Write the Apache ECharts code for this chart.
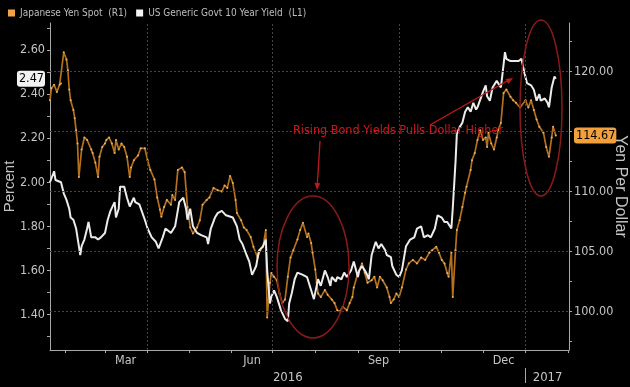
<!DOCTYPE html>
<html>
<head>
<meta charset="utf-8">
<script src="https://cdn.jsdelivr.net/npm/echarts@6/dist/echarts.min.js"></script>
<style>html,body{margin:0;padding:0;background:#000;}#c{width:630px;height:387px;}</style>
</head>
<body>
<div id="c"></div>
<script>
// ---------- DATA ----------
const seriesNames = ['Japanese Yen Spot  (R1)', 'US Generic Govt 10 Year Yield  (L1)'];

const yieldDates = ['2016-01-21','2016-01-24','2016-01-25','2016-01-29','2016-01-31','2016-02-02','2016-02-04','2016-02-05','2016-02-07','2016-02-09',
'2016-02-11','2016-02-12','2016-02-13','2016-02-15','2016-02-17','2016-02-18','2016-02-20','2016-02-23','2016-02-25','2016-02-27',
'2016-03-01','2016-03-03','2016-03-05','2016-03-08','2016-03-09','2016-03-11','2016-03-12','2016-03-15','2016-03-17','2016-03-19',
'2016-03-22','2016-03-23','2016-03-26','2016-03-30','2016-04-01','2016-04-04','2016-04-07','2016-04-09','2016-04-12','2016-04-14',
'2016-04-18','2016-04-21','2016-04-24','2016-04-27','2016-04-29','2016-04-30','2016-05-02','2016-05-04','2016-05-07','2016-05-10',
'2016-05-14','2016-05-15','2016-05-17','2016-05-20','2016-05-22','2016-05-25','2016-05-28','2016-06-02','2016-06-05','2016-06-07',
'2016-06-09','2016-06-12','2016-06-14','2016-06-16','2016-06-19','2016-06-21','2016-06-24','2016-06-26','2016-06-27','2016-06-29',
'2016-06-30','2016-07-02','2016-07-04','2016-07-07','2016-07-10','2016-07-12','2016-07-13','2016-07-15','2016-07-17','2016-07-19',
'2016-07-23','2016-07-26','2016-07-29','2016-07-31','2016-08-02','2016-08-03','2016-08-05','2016-08-08','2016-08-10','2016-08-12',
'2016-08-13','2016-08-16','2016-08-17','2016-08-20','2016-08-22','2016-08-24','2016-08-27','2016-08-29','2016-09-01','2016-09-02',
'2016-09-04','2016-09-07','2016-09-09','2016-09-11','2016-09-14','2016-09-16','2016-09-18','2016-09-21','2016-09-22','2016-09-25',
'2016-09-26','2016-09-29','2016-10-01','2016-10-03','2016-10-06','2016-10-09','2016-10-12','2016-10-14','2016-10-17','2016-10-19',
'2016-10-22','2016-10-24','2016-10-27','2016-10-29','2016-11-01','2016-11-03','2016-11-05','2016-11-08','2016-11-09','2016-11-11',
'2016-11-12','2016-11-14','2016-11-16','2016-11-18','2016-11-20','2016-11-22','2016-11-24','2016-11-26','2016-11-27','2016-12-01',
'2016-12-03','2016-12-04','2016-12-06','2016-12-08','2016-12-11','2016-12-14','2016-12-15','2016-12-17','2016-12-18','2016-12-21',
'2016-12-24','2016-12-27','2016-12-29','2016-12-31','2017-01-02','2017-01-05','2017-01-07','2017-01-09','2017-01-11','2017-01-12',
'2017-01-15','2017-01-17','2017-01-18','2017-01-20','2017-01-22','2017-01-23'];
const yieldValues = [2.00,2.05,2.01,2.00,1.95,1.92,1.88,1.84,1.83,1.79,
1.71,1.67,1.71,1.74,1.79,1.82,1.75,1.75,1.74,1.75,
1.77,1.83,1.87,1.91,1.84,1.88,1.98,1.98,1.93,1.89,
1.93,1.91,1.90,1.83,1.79,1.75,1.73,1.70,1.75,1.79,
1.77,1.80,1.91,1.93,1.88,1.83,1.88,1.80,1.77,1.76,
1.75,1.72,1.79,1.84,1.86,1.87,1.85,1.84,1.80,1.74,
1.72,1.67,1.64,1.58,1.62,1.69,1.71,1.74,1.60,1.45,
1.48,1.51,1.48,1.42,1.38,1.37,1.45,1.50,1.56,1.59,
1.58,1.57,1.51,1.47,1.53,1.56,1.53,1.60,1.57,1.53,
1.57,1.55,1.57,1.56,1.59,1.57,1.60,1.64,1.57,1.60,
1.62,1.59,1.56,1.67,1.73,1.70,1.72,1.69,1.67,1.66,
1.62,1.58,1.57,1.60,1.71,1.74,1.75,1.79,1.80,1.75,
1.76,1.75,1.79,1.85,1.84,1.82,1.82,1.79,1.88,2.09,
2.22,2.25,2.27,2.32,2.34,2.32,2.36,2.33,2.34,2.41,
2.44,2.39,2.37,2.43,2.46,2.43,2.48,2.59,2.56,2.55,
2.55,2.55,2.56,2.50,2.45,2.44,2.42,2.37,2.40,2.37,
2.38,2.36,2.34,2.43,2.48,2.47];

const yenDates = ['2016-01-21','2016-01-22','2016-01-24','2016-01-26','2016-01-28','2016-01-29','2016-01-31','2016-02-02','2016-02-03','2016-02-04',
'2016-02-05','2016-02-07','2016-02-08','2016-02-09','2016-02-10','2016-02-11','2016-02-13','2016-02-15','2016-02-17','2016-02-20',
'2016-02-21','2016-02-23','2016-02-25','2016-02-26','2016-02-28','2016-03-01','2016-03-02','2016-03-04','2016-03-06','2016-03-08',
'2016-03-09','2016-03-11','2016-03-13','2016-03-15','2016-03-17','2016-03-19','2016-03-20','2016-03-22','2016-03-25','2016-03-27',
'2016-03-30','2016-04-01','2016-04-03','2016-04-06','2016-04-08','2016-04-10','2016-04-11','2016-04-13','2016-04-15','2016-04-18',
'2016-04-19','2016-04-21','2016-04-23','2016-04-26','2016-04-28','2016-04-30','2016-05-02','2016-05-04','2016-05-07','2016-05-09',
'2016-05-11','2016-05-14','2016-05-16','2016-05-19','2016-05-22','2016-05-25','2016-05-27','2016-05-29','2016-05-31','2016-06-02',
'2016-06-04','2016-06-05','2016-06-08','2016-06-10','2016-06-12','2016-06-15','2016-06-17','2016-06-20','2016-06-22','2016-06-24',
'2016-06-26','2016-06-27','2016-06-29','2016-06-30','2016-07-02','2016-07-04','2016-07-06','2016-07-08','2016-07-10','2016-07-12',
'2016-07-14','2016-07-16','2016-07-19','2016-07-21','2016-07-23','2016-07-26','2016-07-27','2016-07-29','2016-07-30','2016-08-01',
'2016-08-02','2016-08-03','2016-08-05','2016-08-08','2016-08-10','2016-08-13','2016-08-15','2016-08-17','2016-08-19','2016-08-21',
'2016-08-24','2016-08-26','2016-08-28','2016-08-29','2016-09-01','2016-09-03','2016-09-04','2016-09-06','2016-09-08','2016-09-11',
'2016-09-13','2016-09-15','2016-09-17','2016-09-19','2016-09-22','2016-09-24','2016-09-25','2016-09-27','2016-09-29','2016-10-01',
'2016-10-03','2016-10-06','2016-10-08','2016-10-11','2016-10-14','2016-10-17','2016-10-20','2016-10-23','2016-10-25','2016-10-28',
'2016-10-30','2016-11-01','2016-11-03','2016-11-05','2016-11-06','2016-11-08','2016-11-09','2016-11-11','2016-11-12','2016-11-14',
'2016-11-16','2016-11-18','2016-11-19','2016-11-22','2016-11-23','2016-11-25','2016-11-27','2016-11-29','2016-12-01','2016-12-03',
'2016-12-04','2016-12-05','2016-12-07','2016-12-09','2016-12-11','2016-12-12','2016-12-14','2016-12-16','2016-12-18','2016-12-21',
'2016-12-23','2016-12-25','2016-12-28','2017-01-01','2017-01-03','2017-01-05','2017-01-07','2017-01-09','2017-01-11','2017-01-14',
'2017-01-16','2017-01-18','2017-01-20','2017-01-21','2017-01-23'];
const yenValues = [117.6,118.6,118.9,118.3,118.9,119.0,121.6,121.0,120.1,118.5,
117.6,116.8,116.1,115.1,114.0,111.2,113.5,114.5,114.3,113.5,
113.2,112.4,111.2,112.9,113.7,114.0,114.3,114.5,114.0,113.2,
114.3,113.5,114.0,113.7,112.9,111.2,112.0,112.6,113.0,113.6,
113.6,112.6,111.8,111.0,109.5,108.5,107.9,108.7,109.3,108.9,
109.7,109.3,111.8,112.0,111.6,108.7,107.0,106.5,107.0,107.6,
108.9,109.3,109.5,110.3,110.1,110.0,110.5,110.3,111.3,110.7,
109.3,108.2,107.6,107.0,106.8,106.2,105.4,104.5,105.1,105.4,
106.8,99.5,102.4,103.2,102.9,102.6,101.5,100.7,101.0,102.9,
104.5,105.1,106.0,106.8,107.4,106.2,106.5,105.7,104.9,103.5,
102.4,101.5,101.2,101.8,101.4,101.0,100.7,100.1,100.0,100.4,
100.1,100.7,101.2,102.0,103.2,103.7,104.0,103.2,102.4,102.6,
102.9,102.0,102.9,102.6,102.0,101.2,100.7,101.0,101.5,101.2,
102.0,103.5,104.0,104.3,104.0,104.5,104.3,104.9,105.1,105.4,
104.9,104.3,104.0,103.2,102.9,104.9,101.2,105.1,106.8,107.6,
108.7,109.9,110.4,111.8,112.6,113.2,114.3,115.1,114.3,114.5,
113.7,114.9,114.0,113.5,114.5,115.1,115.7,118.2,118.5,117.9,
117.6,117.4,117.0,117.6,117.0,117.6,116.8,116.0,115.4,114.9,
113.7,112.9,114.5,115.4,114.67];

const leftTickLabels = [1.40, 1.60, 1.80, 2.00, 2.20, 2.40, 2.60];
const rightTickLabels = [100, 105, 110, 120];      // 115 sits under the last-value tag
const monthLabels = ['Mar', 'Jun', 'Sep', 'Dec'];
const yearLabels = ['2016', '2017'];

// ---------- BUILD ----------
const D = (y, m, d, h) => new Date(y, m, d, h || 0).getTime();
const P = s => { const a = s.split('-').map(Number); return D(a[0], a[1] - 1, a[2]); };
const xMin = D(2016, 0, 21), xMax = D(2017, 1, 1, 14);
const monthStarts = [];
for (let i = 1; i <= 13; i++) monthStarts.push(D(2016, i, 1));
const monthLabelPos = [D(2016, 2, 16), D(2016, 5, 16), D(2016, 8, 16), D(2016, 11, 16)];
const yearLabelPos = [D(2016, 6, 12), D(2017, 0, 17)];
const quarterLines = [D(2016, 3, 1), D(2016, 6, 1), D(2016, 9, 1), D(2017, 0, 1)];
const lastYield = yieldValues[yieldValues.length - 1];
const lastYen = yenValues[yenValues.length - 1];
const leftTicks = []; for (let v = 13; v <= 27; v++) leftTicks.push(v / 10);
const rightTicks = []; for (let v = 97.5; v <= 123; v += 2.5) rightTicks.push(v);

const NARROW = "'Liberation Sans Narrow','DejaVu Sans Condensed','Roboto Condensed',sans-serif";
const AX = '#a8a8a8', TXT = '#c4c4c4';

const chart = echarts.init(document.getElementById('c'), null, {renderer: 'canvas'});
chart.setOption({
  backgroundColor: '#000',
  animation: false,
  grid: {left: 50, right: 61, top: 23, bottom: 37, outerBoundsMode: 'none', containLabel: false},
  legend: {
    left: 8, top: 8, padding: 0, itemWidth: 7, itemHeight: 7, itemGap: 9, icon: 'rect',
    data: [
      {name: seriesNames[0], itemStyle: {color: '#f2a444'}},
      {name: seriesNames[1], itemStyle: {color: '#f4f4f4'}}
    ],
    textStyle: {color: '#bdbdbd', fontSize: 10, fontFamily: NARROW}
  },
  xAxis: [{
    type: 'value', min: xMin, max: xMax,
    axisLine: {lineStyle: {color: AX, width: 1}},
    axisTick: {customValues: monthStarts, length: 3, lineStyle: {color: AX}},
    axisLabel: {customValues: monthLabelPos, color: TXT, fontFamily: NARROW, fontSize: 12.5, margin: 4,
      formatter: v => { const i = monthLabelPos.indexOf(v); return i >= 0 ? monthLabels[i] : ''; }},
    splitLine: {show: false}
  }, {
    type: 'value', min: xMin, max: xMax, position: 'bottom', offset: 18,
    axisLine: {show: false},
    axisTick: {customValues: [D(2017, 0, 1)], length: 15, lineStyle: {color: AX}},
    axisLabel: {customValues: yearLabelPos, color: TXT, fontFamily: NARROW, fontSize: 13, margin: 3,
      formatter: v => { const i = yearLabelPos.indexOf(v); return i >= 0 ? yearLabels[i] : ''; }},
    splitLine: {show: false}
  }],
  yAxis: [{
    type: 'value', position: 'left', min: 1.239, max: 2.7225,
    name: 'Percent', nameLocation: 'middle', nameRotate: 90, nameGap: 33, nameMoveOverlap: false,
    nameTextStyle: {color: TXT, fontSize: 15, fontFamily: "'Liberation Sans','DejaVu Sans',sans-serif"},
    axisLine: {show: true, lineStyle: {color: AX}},
    axisTick: {show: true, customValues: leftTicks, length: 3, lineStyle: {color: AX}},
    axisLabel: {customValues: leftTickLabels.concat([lastYield]), color: TXT, fontFamily: NARROW, fontSize: 12.5, margin: 5,
      formatter: v => Math.abs(v - lastYield) < 1e-9 ? '{hl|' + v.toFixed(2) + '}' : v.toFixed(2),
      rich: {hl: {backgroundColor: '#f2f2f2', color: '#000', fontFamily: NARROW, fontSize: 12.5, padding: [2, 1, 1, 2], borderRadius: 3}}},
    splitLine: {show: false}
  }, {
    type: 'value', position: 'right', min: 96.79, max: 124.04,
    name: 'Yen Per Dollar', nameLocation: 'middle', nameRotate: -90, nameGap: 43, nameMoveOverlap: false,
    nameTextStyle: {color: TXT, fontSize: 16, fontFamily: "'Liberation Sans','DejaVu Sans',sans-serif"},
    axisLine: {show: true, lineStyle: {color: AX}},
    axisTick: {show: true, customValues: rightTicks, length: 3, lineStyle: {color: AX}},
    axisLabel: {customValues: rightTickLabels.concat([lastYen]), color: TXT, fontFamily: NARROW, fontSize: 12.5, margin: 5,
      formatter: v => Math.abs(v - lastYen) < 1e-9 ? '{hl|' + v.toFixed(2) + '}' : v.toFixed(2),
      rich: {hl: {backgroundColor: '#f2a03c', color: '#000', fontFamily: NARROW, fontSize: 12.5, padding: [2, 1, 1, 2], borderRadius: 3}}},
    splitLine: {show: false}
  }],
  series: [{
    name: 'grid', type: 'line', data: [], yAxisIndex: 1, z: 1, silent: true,
    markLine: {
      silent: true, symbol: 'none', label: {show: false},
      lineStyle: {color: '#444', type: [2, 2], width: 1},
      data: [100, 105, 110, 115, 120].map(v => ({yAxis: v})).concat(quarterLines.map(t => ({xAxis: t})))
    }
  }, {
    name: seriesNames[0], type: 'line', yAxisIndex: 1, z: 3,
    data: yenDates.map((d, i) => [P(d), yenValues[i]]),
    showSymbol: true, showAllSymbol: true, symbol: 'circle', symbolSize: 2,
    itemStyle: {color: '#e8b266', borderWidth: 0},
    lineStyle: {color: '#b3701e', width: 1.7},
    emphasis: {disabled: true}
  }, {
    name: seriesNames[1], type: 'line', yAxisIndex: 0, z: 4,
    data: yieldDates.map((d, i) => [P(d), yieldValues[i]]),
    showSymbol: false,
    itemStyle: {color: '#f4f4f4'},
    lineStyle: {color: '#ececec', width: 2},
    emphasis: {disabled: true}
  }],
  graphic: [
    {type: 'ellipse', z: 100, shape: {cx: 313, cy: 267, rx: 36, ry: 71}, style: {fill: 'none', stroke: '#8a1a1a', lineWidth: 1.5}},
    {type: 'ellipse', z: 100, shape: {cx: 541, cy: 108, rx: 21, ry: 88}, style: {fill: 'none', stroke: '#8a1a1a', lineWidth: 1.5}},
    {type: 'line', z: 100, shape: {x1: 320, y1: 141, x2: 317.3, y2: 184}, style: {stroke: '#b81a1a', lineWidth: 1.4}},
    {type: 'polygon', z: 100, shape: {points: [[317, 190], [320.4, 183.2], [314.4, 182.8]]}, style: {fill: '#b81a1a'}},
    {type: 'line', z: 100, shape: {x1: 430, y1: 125, x2: 507, y2: 81}, style: {stroke: '#b81a1a', lineWidth: 1.4}},
    {type: 'polygon', z: 100, shape: {points: [[513, 78], [508.4, 84.1], [505.4, 78.9]]}, style: {fill: '#b81a1a'}},
    {type: 'text', z: 101, style: {x: 398, y: 131, text: 'Rising Bond Yields Pulls Dollar Higher', align: 'center', verticalAlign: 'middle',
      fill: '#c8191e', font: "12.5px 'Liberation Sans Narrow','DejaVu Sans Condensed',sans-serif"}}
  ]
});
</script>
</body>
</html>
